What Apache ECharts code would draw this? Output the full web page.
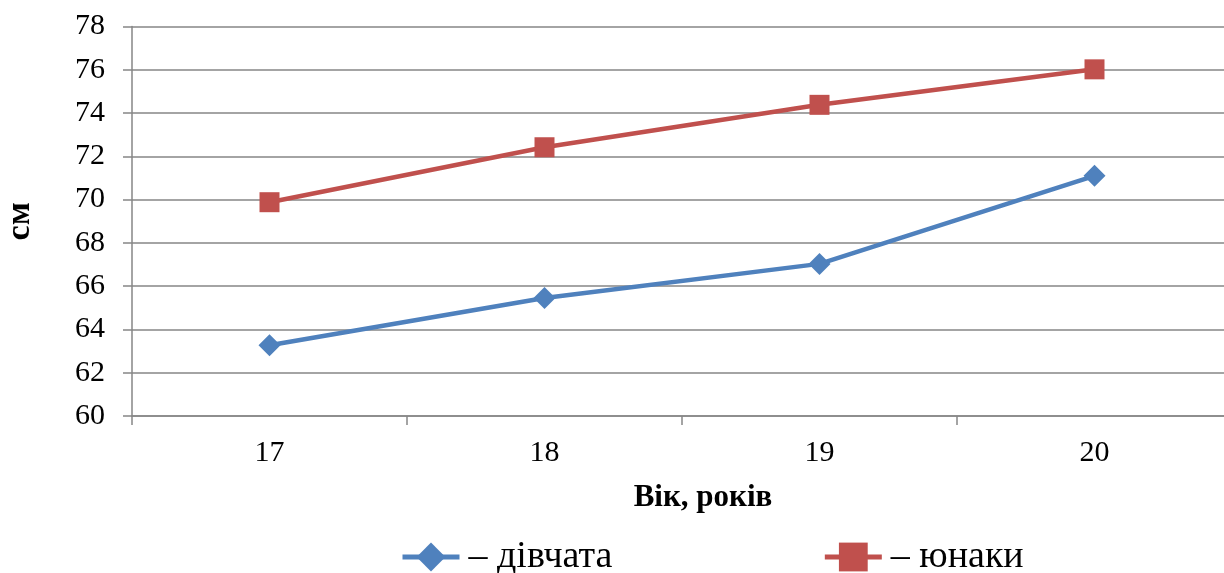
<!DOCTYPE html>
<html><head><meta charset="utf-8">
<script src="https://cdn.jsdelivr.net/npm/echarts@6/dist/echarts.min.js"></script>
<style>html,body{margin:0;padding:0;background:#fff}#c{width:1224px;height:573px}</style>
</head><body><div id="c"></div>
<script>
const categories = ['17', '18', '19', '20'];
const girls = [63.27, 65.45, 67.03, 71.1];
const boys = [69.88, 72.42, 74.38, 76.02];
const seriesNames = ['– дівчата', '– юнаки'];
const yTitle = 'см';
const xTitle = 'Вік, років';

const font = 'Liberation Serif';
const chart = echarts.init(document.getElementById('c'), null, {renderer: 'canvas'});
chart.setOption({
  animation: false,
  backgroundColor: '#fff',
  textStyle: {fontFamily: font},
  grid: {left: 132, width: 1100, top: 26.5, bottom: 157, containLabel: false, outerBoundsMode: 'none'},
  legend: {
    top: 533, left: 395,
    itemWidth: 57, itemHeight: 36, itemGap: 210,
    lineStyle: {width: 5},
    textStyle: {fontFamily: font, fontSize: 38, color: '#000', padding: [0, 0, 0, 4]},
    data: seriesNames
  },
  xAxis: {
    type: 'category', data: categories, boundaryGap: true,
    name: xTitle, nameLocation: 'middle', nameGap: 66,
    nameTextStyle: {fontFamily: font, fontSize: 31, fontWeight: 'bold', color: '#000', padding: [0, 0, 0, 42]},
    axisLine: {lineStyle: {color: '#868686', width: 1.5}},
    axisTick: {show: true, length: 9, lineStyle: {color: '#868686', width: 1.5}},
    axisLabel: {fontFamily: font, fontSize: 30, color: '#000', margin: 22}
  },
  yAxis: {
    type: 'value', min: 60, max: 78, interval: 2,
    name: yTitle, nameLocation: 'middle', nameGap: 95, nameRotate: 90,
    nameTextStyle: {fontFamily: font, fontSize: 34, fontWeight: 'bold', color: '#000'},
    axisLine: {show: true, lineStyle: {color: '#868686', width: 1.5}},
    axisTick: {show: true, length: 9, lineStyle: {color: '#868686', width: 1.5}},
    splitLine: {lineStyle: {color: '#868686', width: 1.5}},
    axisLabel: {fontFamily: font, fontSize: 30, color: '#000', margin: 27}
  },
  series: [
    {name: seriesNames[0], type: 'line', data: girls, symbol: 'diamond', symbolSize: 22,
     lineStyle: {color: '#4F81BD', width: 4.5}, itemStyle: {color: '#4F81BD'}},
    {name: seriesNames[1], type: 'line', data: boys, symbol: 'rect', symbolSize: 20,
     lineStyle: {color: '#C0504D', width: 4.5}, itemStyle: {color: '#C0504D'}}
  ]
});
</script></body></html>
